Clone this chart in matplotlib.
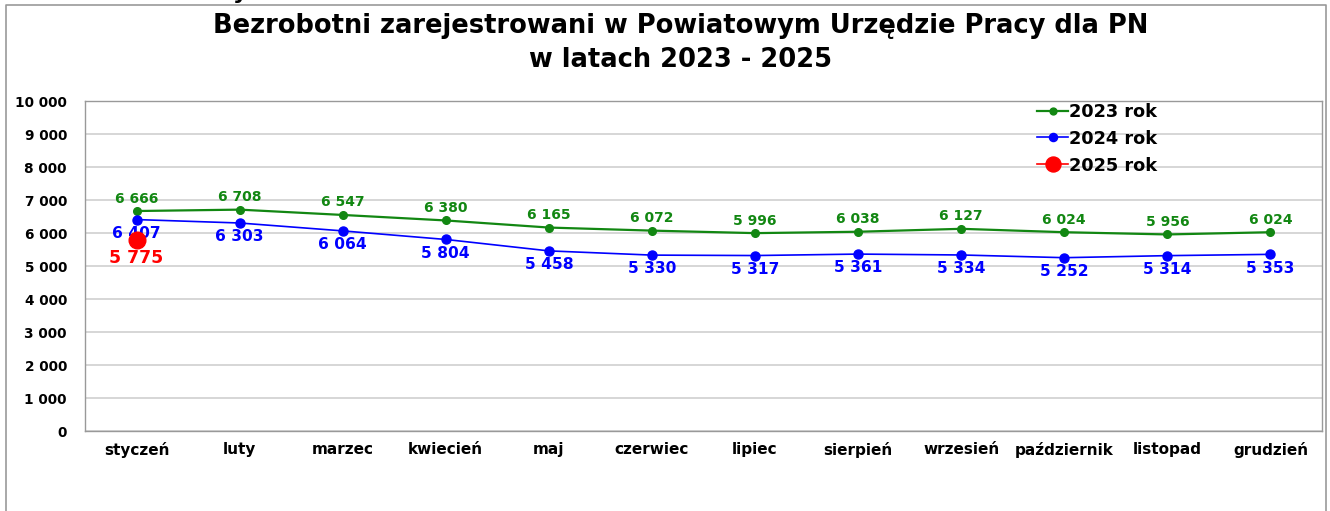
import matplotlib
matplotlib.use("Agg")
import matplotlib.pyplot as plt
from matplotlib.lines import Line2D
from matplotlib.ticker import FuncFormatter, MultipleLocator

months = ["styczeń", "luty", "marzec", "kwiecień", "maj", "czerwiec",
          "lipiec", "sierpień", "wrzesień", "październik", "listopad", "grudzień"]
y2023 = [6666, 6708, 6547, 6380, 6165, 6072, 5996, 6038, 6127, 6024, 5956, 6024]
y2024 = [6407, 6303, 6064, 5804, 5458, 5330, 5317, 5361, 5334, 5252, 5314, 5353]
y2025 = [5775]
labels = ["2023 rok", "2024 rok", "2025 rok"]
title = "Bezrobotni zarejestrowani w Powiatowym Urzędzie Pracy dla PN\nw latach 2023 - 2025"

plt.rcParams['font.family'] = ['DejaVu Sans']

GREEN = "#128712"
BLUE = "#0000FF"
RED = "#FF0000"

fig = plt.figure(figsize=(13.3, 5.11), dpi=100)
ax = fig.add_axes([85/1330, 1 - 431/511, (1322-85)/1330, (431-101)/511])

x = list(range(len(months)))
ax.plot(x, y2023, color=GREEN, lw=1.6, marker='o', ms=5.5, label=labels[0], zorder=3)
ax.plot(x, y2024, color=BLUE, lw=1.2, marker='o', ms=6.5, label=labels[1], zorder=3)
ax.plot(x[:len(y2025)], y2025, color=RED, lw=1.2, marker='o', ms=12, label=labels[2], zorder=4)

fmt = lambda v: f"{v:,}".replace(",", " ")
for xi, v in zip(x, y2023):
    ax.annotate(fmt(v), (xi, v), xytext=(0, 9), textcoords='offset points',
                ha='center', va='center', color=GREEN, fontsize=10, fontweight='bold')
for xi, v in zip(x, y2024):
    ax.annotate(fmt(v), (xi, v), xytext=(0, -10), textcoords='offset points',
                ha='center', va='center', color=BLUE, fontsize=11.2, fontweight='bold')
for xi, v in zip(x, y2025):
    ax.annotate(fmt(v), (xi, v), xytext=(0, -13), textcoords='offset points',
                ha='center', va='center', color=RED, fontsize=12.5, fontweight='bold')

ax.set_xlim(-0.5, len(months) - 0.5)
ax.set_ylim(0, 10000)
ax.yaxis.set_major_locator(MultipleLocator(1000))
ax.yaxis.set_major_formatter(FuncFormatter(lambda v, p: fmt(int(v))))
ax.set_xticks(x)
ax.set_xticklabels(months)
for t in ax.get_xticklabels():
    t.set_fontweight('bold')
    t.set_fontsize(11)
for t in ax.get_yticklabels():
    t.set_fontweight('bold')
    t.set_fontsize(9.8)
ax.tick_params(axis='y', length=0, pad=13)
ax.tick_params(axis='x', length=0, pad=8)
ax.grid(axis='y', color='#d0d0d0', lw=1.2)
ax.set_axisbelow(True)
for s in ax.spines.values():
    s.set_color('#999999')
    s.set_linewidth(1)

leg = ax.legend(loc='upper left', bbox_to_anchor=(0.757, 1.043), frameon=False,
                handlelength=1.7, handletextpad=0.1, labelspacing=0.5,
                prop={'weight': 'bold', 'size': 12.8}, markerscale=0.9)

fig.text(0.512, 1 - 13/511, title, ha='center', va='top', fontsize=18.5,
         fontweight='bold', linespacing=1.4)

# fragment of text cut off at the top edge (as in the reference)
fig.text(240/1330, 1 + 1/511, "y", ha='center', va='baseline', fontsize=16,
         fontweight='bold')

# outer chart border
fig.add_artist(Line2D([6/1330, 6/1330, 1326/1330, 1326/1330], [0, 1 - 5/511, 1 - 5/511, 0],
                      transform=fig.transFigure, color='#999999', lw=1.2))

fig.savefig("out.png", dpi=100)
